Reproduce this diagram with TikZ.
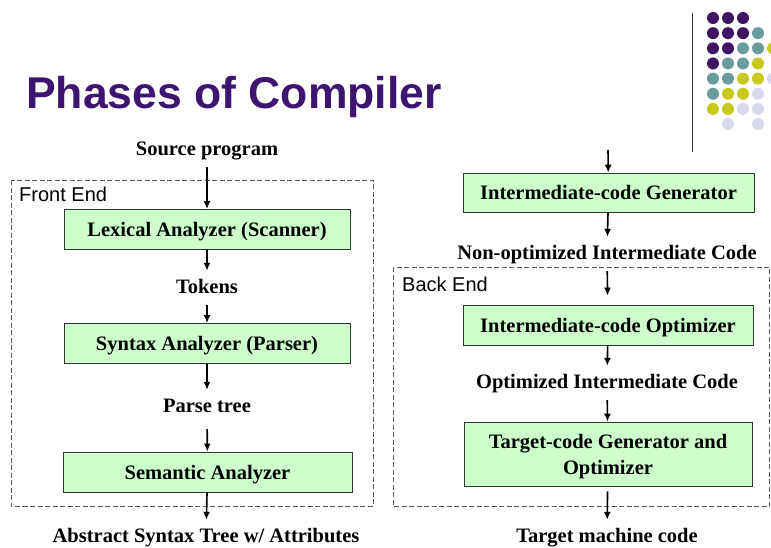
\documentclass[tikz,border=0pt]{standalone}
\usepackage{fontspec}
\setmainfont{Liberation Serif}
\setsansfont{Liberation Sans}
\usetikzlibrary{arrows.meta,positioning}
\definecolor{ttl}{HTML}{3D1470}
\definecolor{dpur}{HTML}{3F1262}
\definecolor{dteal}{HTML}{6A9C9C}
\definecolor{dyel}{HTML}{C8C81E}
\definecolor{dlav}{HTML}{D9D9EC}
\definecolor{gfill}{HTML}{CCFFCC}
\tikzset{
  phase/.style={draw=black!80,line width=0.8pt,fill=gfill,align=center,inner sep=0pt,minimum height=40pt,text depth=0pt,font=\fontsize{20.5}{26}\selectfont\bfseries},
  lbl/.style={inner xsep=2pt,inner ysep=8pt,text height=14pt,text depth=4pt,font=\fontsize{20.5}{23}\selectfont\bfseries},
  grp/.style={draw=black!65,dash pattern=on 5pt off 2.5pt,line width=0.7pt},
  grplbl/.style={anchor=west,inner sep=0pt,font=\sffamily\fontsize{20}{23}\selectfont},
  ar/.style={-{Latex[length=8pt,width=7pt]},line width=1.6pt},
}

\begin{document}
\begin{tikzpicture}[x=1pt,y=-1pt]
\clip (0,0) rectangle (771,547);
\fill[white] (0,0) rectangle (771,547);
% title and corner dots
\node[anchor=base west,inner sep=0pt,text=ttl,font=\sffamily\bfseries\fontsize{44.5}{50}\selectfont] (title) at (26,108) {Phases of Compiler};
\draw[line width=1pt,black!80] (692,13) -- (692,152);
\foreach \c/\r/\col in {0/0/dpur,1/0/dpur,2/0/dpur,
  0/1/dpur,1/1/dpur,2/1/dpur,3/1/dteal,
  0/2/dpur,1/2/dpur,2/2/dteal,3/2/dteal,4/2/dyel,
  0/3/dpur,1/3/dteal,2/3/dteal,3/3/dyel,
  0/4/dteal,1/4/dteal,2/4/dyel,3/4/dyel,4/4/dlav,
  0/5/dteal,1/5/dyel,2/5/dyel,3/5/dlav,
  0/6/dyel,1/6/dyel,2/6/dlav,3/6/dlav,
  1/7/dlav,3/7/dlav}
  \fill[\col] (713+15*\c,18+15.15*\r) circle (6pt);
% front end
\draw[grp] (11,180) rectangle (373,506);
\node[grplbl] (fe) at (19,194) {Front End};
\node[lbl] (src) at (207,150) {Source program};
\node[phase,minimum width=286pt] (lex) at (207,229.5) {Lexical Analyzer (Scanner)};
\node[lbl] (tok) at (207,288) {Tokens};
\node[phase,minimum width=286pt] (syn) at (207,343.5) {Syntax Analyzer (Parser)};
\node[lbl] (ptree) at (207,407) {Parse tree};
\node[phase,minimum width=289pt] (sem) at (207.5,472) {Semantic Analyzer};
\node[lbl] (ast) at (206,537) {Abstract Syntax Tree w/ Attributes};
\draw[ar] (src) -- (lex);
\draw[ar] (lex) -- (tok);
\draw[ar] (tok) -- (syn);
\draw[ar] (syn) -- (ptree);
\draw[ar,shorten <=5pt] (ptree) -- (sem);
\draw[ar] (sem) -- (ast);
% back end
\draw[grp] (393,267) rectangle (769.5,506);
\node[grplbl] (be) at (402,284) {Back End};
\coordinate (in) at (608,150);
\node[phase,minimum width=291pt,minimum height=39pt] (icg) at (608.5,192.5) {Intermediate-code Generator};
\node[lbl] (nonopt) at (607,254) {Non-optimized Intermediate Code};
\node[phase,minimum width=290pt] (ico) at (608,325) {Intermediate-code Optimizer};
\node[lbl] (optc) at (607,383) {Optimized Intermediate Code};
\node[phase,minimum width=288pt,minimum height=64pt] (tcg) at (608,454) {Target-code Generator and\\Optimizer};
\node[lbl] (tmc) at (607,537) {Target machine code};
\draw[ar] (in) -- (icg);
\draw[ar] (icg) -- (nonopt);
\draw[ar,shorten >=9pt] (nonopt) -- (ico);
\draw[ar] (ico) -- (optc);
\draw[ar] (optc) -- (tcg);
\draw[ar,shorten <=5pt] (tcg) -- (tmc);
\end{tikzpicture}
\end{document}
